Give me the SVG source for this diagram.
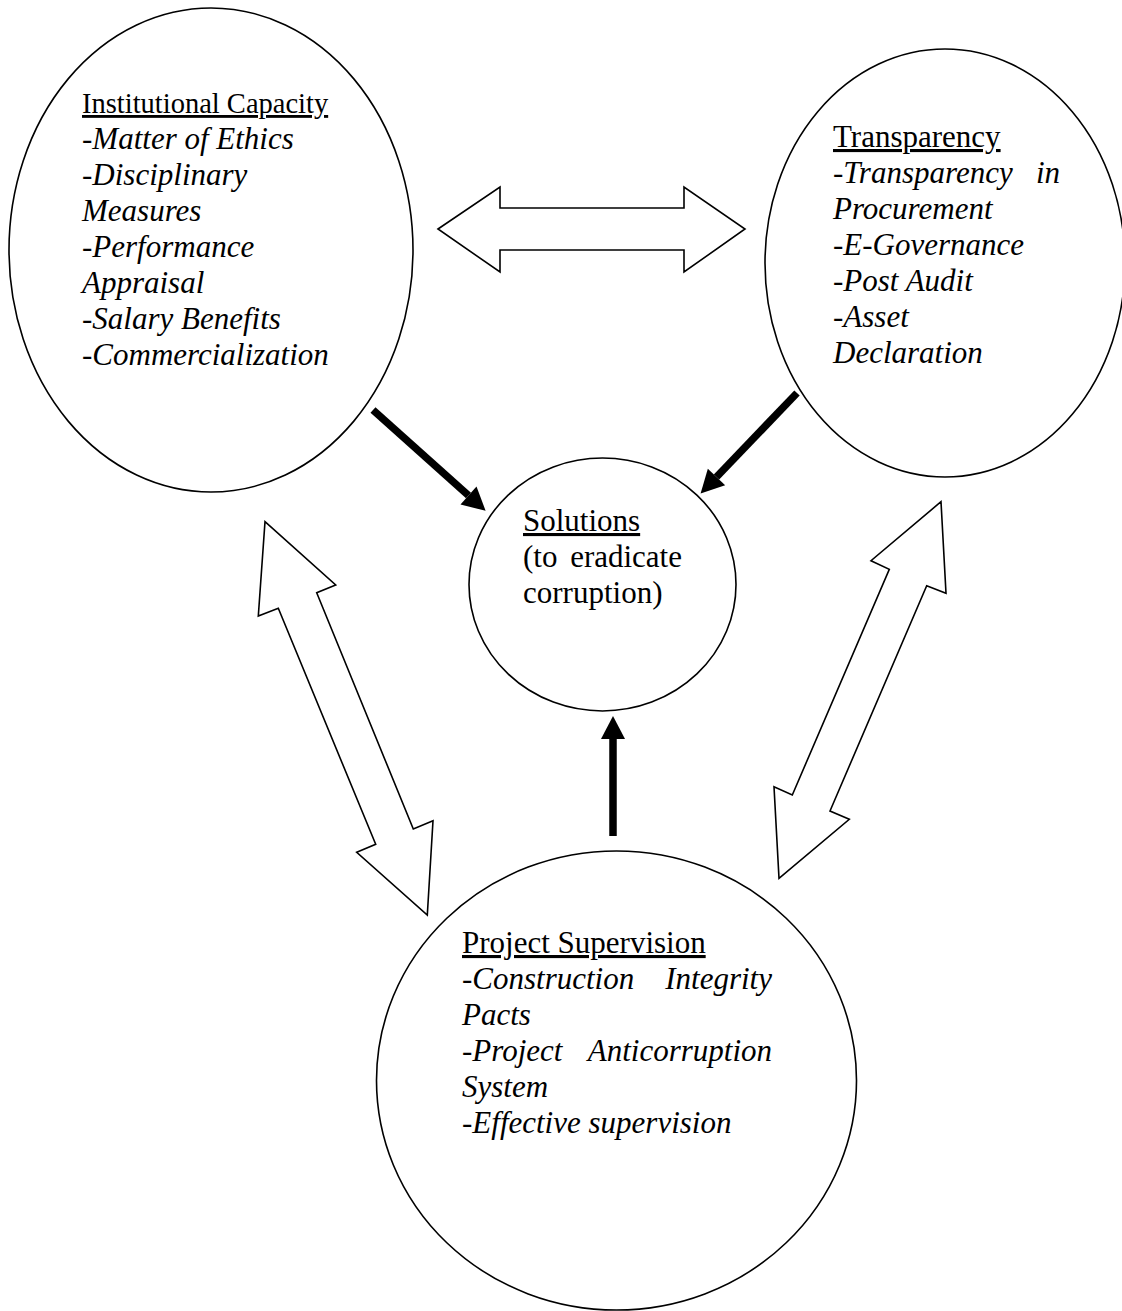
<svg xmlns="http://www.w3.org/2000/svg" width="1122" height="1311" viewBox="0 0 1122 1311">
<style>
.node{fill:#fff;stroke:#000;stroke-width:1.6}
.dbl{fill:#fff;stroke:#000;stroke-width:1.6;stroke-linejoin:miter}
.thick{stroke:#000;stroke-width:7.5;fill:none}
text{font-family:"Liberation Serif","Times New Roman",serif;font-size:31px;fill:#000}
.h{text-decoration:underline}
.i{font-style:italic}
</style>
<defs>
<marker id="ah" markerUnits="userSpaceOnUse" markerWidth="24" markerHeight="24" refX="0" refY="12" orient="auto" overflow="visible">
<path d="M0,0 L23,12 L0,24 z" fill="#000"/>
</marker>
</defs>
<rect width="1122" height="1311" fill="#fff"/>
<g id="connectors">
<polygon class="dbl" points="438,229 500,187 500,208 684,208 684,187 745,229 684,272 684,250 500,250 500,272"/>
<polygon class="dbl" points="265,521.7 335.7,585 316.7,592.7 413.3,829 433,820.7 427.3,915 356.7,852.3 375.7,844.3 278.3,608.3 258.3,616"/>
<polygon class="dbl" points="941,501.7 946,593.3 926.7,585.7 830,811 849.3,819.3 779,878.3 774,786.7 792.3,795 889.3,569.3 871,560.7"/>
<line class="thick" x1="373" y1="410" x2="468.5" y2="495.5" marker-end="url(#ah)"/>
<line class="thick" x1="797" y1="393" x2="716.5" y2="477" marker-end="url(#ah)"/>
<line class="thick" x1="613" y1="836" x2="613" y2="739" marker-end="url(#ah)"/>
</g>
<g id="institutional-capacity">
<ellipse class="node" cx="211" cy="250" rx="202" ry="242"/>
<text x="82" y="113" class="h" style="font-size:28.5px">Institutional Capacity</text>
<text x="82" y="149">-<tspan class="i">Matter of Ethics</tspan></text>
<text x="82" y="185">-<tspan class="i">Disciplinary</tspan></text>
<text x="82" y="221" class="i">Measures</text>
<text x="82" y="257">-<tspan class="i">Performance</tspan></text>
<text x="82" y="293" class="i">Appraisal</text>
<text x="82" y="329">-<tspan class="i">Salary Benefits</tspan></text>
<text x="82" y="365">-<tspan class="i">Commercialization</tspan></text>
</g>
<g id="transparency">
<ellipse class="node" cx="945" cy="263" rx="180" ry="214"/>
<text x="833" y="147" class="h">Transparency</text>
<text x="833" y="183">-<tspan class="i">Transparency</tspan></text>
<text x="1060" y="183" class="i" text-anchor="end">in</text>
<text x="833" y="219" class="i">Procurement</text>
<text x="833" y="255">-<tspan class="i">E-Governance</tspan></text>
<text x="833" y="291">-<tspan class="i">Post Audit</tspan></text>
<text x="833" y="327">-<tspan class="i">Asset</tspan></text>
<text x="833" y="363" class="i">Declaration</text>
</g>
<g id="solutions">
<ellipse class="node" cx="602.5" cy="584.5" rx="133.5" ry="126.5"/>
<text x="523" y="531" class="h">Solutions</text>
<text x="523" y="567">(to</text>
<text x="682" y="567" text-anchor="end">eradicate</text>
<text x="523" y="603">corruption)</text>
</g>
<g id="project-supervision">
<ellipse class="node" cx="616.5" cy="1080.5" rx="240" ry="229.5"/>
<text x="462" y="953" class="h">Project Supervision</text>
<text x="462" y="989">-<tspan class="i">Construction</tspan></text>
<text x="772" y="989" class="i" text-anchor="end">Integrity</text>
<text x="462" y="1025" class="i">Pacts</text>
<text x="462" y="1061">-<tspan class="i">Project</tspan></text>
<text x="772" y="1061" class="i" text-anchor="end">Anticorruption</text>
<text x="462" y="1097" class="i">System</text>
<text x="462" y="1133">-<tspan class="i">Effective supervision</tspan></text>
</g>
</svg>
